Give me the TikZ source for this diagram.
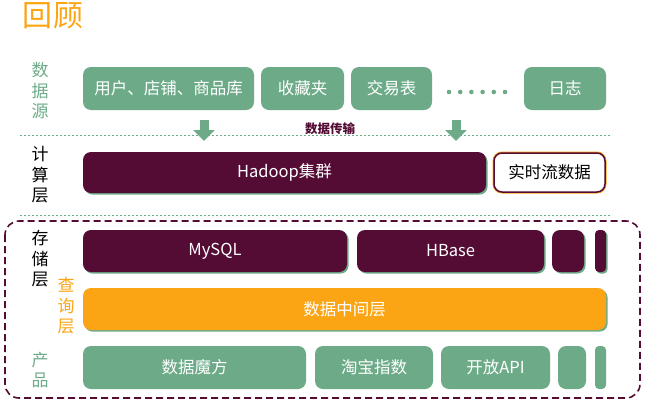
\documentclass[tikz,border=0pt]{standalone}
\usepackage{fontspec}
\setmainfont{Noto Sans CJK SC}
\usetikzlibrary{arrows.meta,shadows}
\definecolor{lgreen}{HTML}{6DAB88}
\definecolor{dpurple}{HTML}{540C34}
\definecolor{dorange}{HTML}{FBA514}
\tikzset{
  boxshadow/.style={drop shadow={shadow xshift=1.6pt, shadow yshift=-1.6pt, fill=lgreen, opacity=1}},
  sepline/.style={lgreen, line width=1pt, dash pattern=on 2pt off 2pt},
  downarrow/.style={lgreen, line width=9pt, -{Triangle[width=21pt,length=11pt]}}
}
\begin{document}
\begin{tikzpicture}[x=1pt,y=-1pt]
        \useasboundingbox (0,0) rectangle (650,413);
        \node [text=dorange, font=\fontsize{30}{30}\selectfont] (title) at (53,16) {回顾};
        \begin{scope}[every node/.style={align=center, inner sep=0pt, font=\fontsize{17}{20.5}\selectfont}]
                \node [text=lgreen] (Lsrc) at (40,91) {数\\据\\源};
                \node [text=black] (Lcalc) at (40,175) {计\\算\\层};
                \node [text=black] (Lstore) at (40,259) {存\\储\\层};
                \node [text=dorange] (Lquery) at (66,306) {查\\询\\层};
                \node [text=lgreen] (Lprod) at (40,370) {产\\品};
        \end{scope}
        \draw[sepline] (20,135) -- (612,135);
        \draw[sepline] (20,215) -- (612,215);
        \draw[dpurple, line width=1.6pt, dash pattern=on 7pt off 4pt, rounded corners=14pt] (5,221) rectangle (640,398);
        \begin{scope}[every node/.style={rounded corners=8pt, minimum height=43pt, inner sep=0pt, text=white, font=\fontsize{16.5}{16.5}\selectfont}]
                \node [fill=lgreen, minimum width=171pt] (users) at (168.5,88.5) {用户、店铺、商品库};
                \node [fill=lgreen, minimum width=83pt] (favs) at (302.5,88.5) {收藏夹};
                \node [fill=lgreen, minimum width=81pt] (trades) at (391.5,88.5) {交易表};
                \node [fill=lgreen, minimum width=82pt] (logs) at (565,88.5) {日志};
                \node [fill=dpurple, boxshadow, minimum width=403pt, minimum height=41pt] (hadoop) at (284.5,172.5) {Hadoop集群};
                \node [fill=white, draw=dpurple, line width=1.5pt, preaction={draw=dorange, line width=3pt}, text=black, minimum width=111pt, minimum height=39pt] (stream) at (549.5,172.5) {实时流数据};
                \node [fill=dpurple, boxshadow, minimum width=264pt, minimum height=42pt] (mysql) at (215,251) {MySQL};
                \node [fill=dpurple, boxshadow, minimum width=187pt, minimum height=42pt] (hbase) at (450.5,251) {HBase};
                \node [fill=dpurple, boxshadow, minimum width=32pt, minimum height=42pt] (storeA) at (568,251) {};
                \node [fill=dpurple, boxshadow, minimum width=11pt, minimum height=42pt, rounded corners=4pt] (storeB) at (600.5,251) {};
                \node [fill=dorange, boxshadow, minimum width=523pt, minimum height=42pt] (middle) at (344.5,309) {数据中间层};
                \node [fill=lgreen, minimum width=223pt] (cube) at (194.5,367.5) {数据魔方};
                \node [fill=lgreen, minimum width=118pt] (index) at (374,367.5) {淘宝指数};
                \node [fill=lgreen, minimum width=109pt] (api) at (495.5,367.5) {开放API};
                \node [fill=lgreen, minimum width=28pt] (prodA) at (572,367.5) {};
                \node [fill=lgreen, minimum width=11pt, rounded corners=4pt] (prodB) at (600.5,367.5) {};
        \end{scope}
        \foreach \i in {0,...,5}
                \fill[lgreen] (449+\i*11.2,92) circle (2.3);
        \coordinate (arrowAtop) at (204,120);
        \coordinate (arrowAbot) at (204,141);
        \coordinate (arrowBtop) at (456,120);
        \coordinate (arrowBbot) at (456,141);
        \draw[downarrow] (arrowAtop) -- (arrowAbot);
        \draw[downarrow] (arrowBtop) -- (arrowBbot);
        \node [text=dpurple, font=\bfseries\fontsize{12.5}{12.5}\selectfont] (transfer) at (330,129) {数据传输};
\end{tikzpicture}
\end{document}
